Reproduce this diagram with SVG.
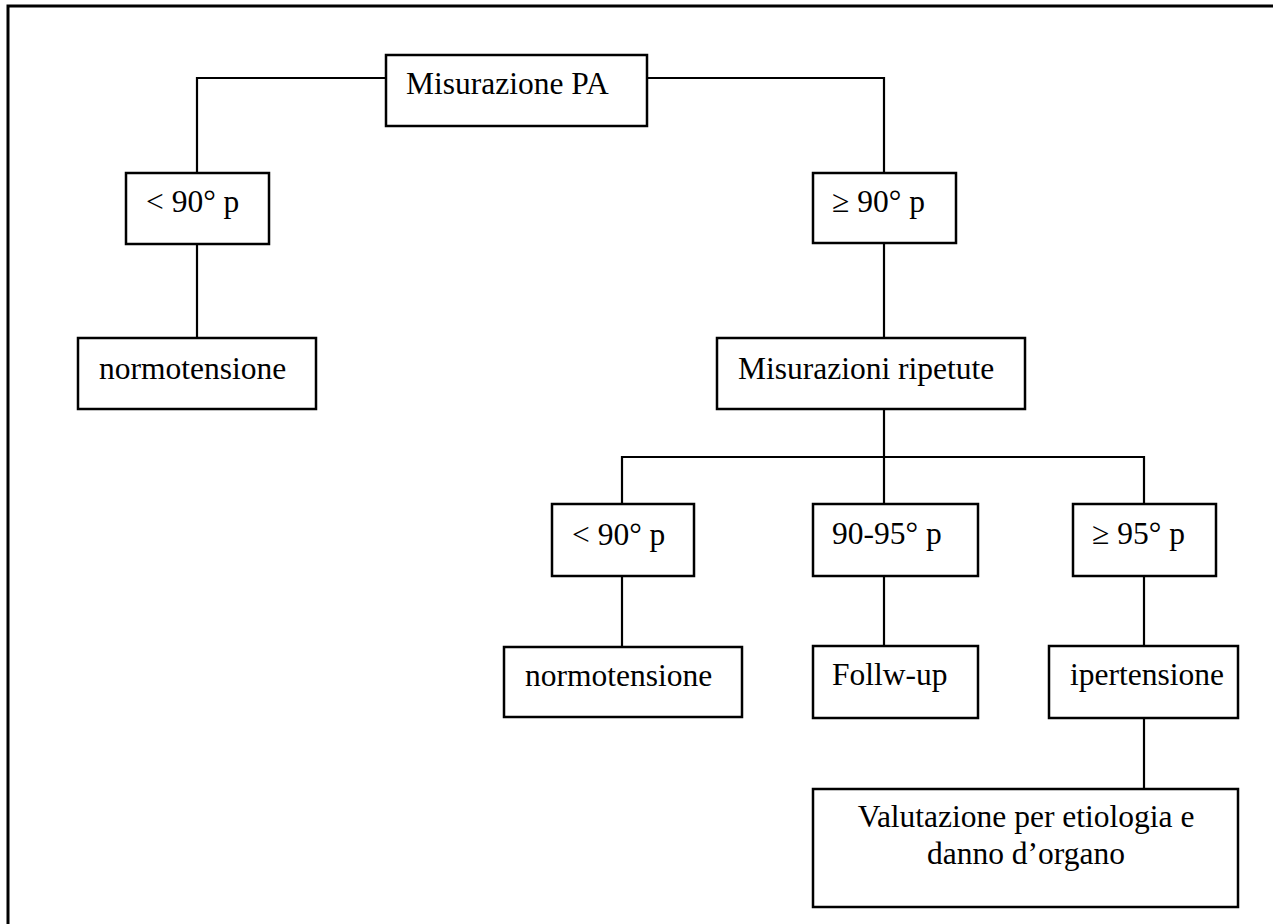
<svg xmlns="http://www.w3.org/2000/svg" width="1273" height="924" viewBox="0 0 1273 924">
<style>
.box{fill:#fff;stroke:#000;stroke-width:2.5}
.conn{fill:none;stroke:#000;stroke-width:2.2}
text{font-family:"Liberation Serif","Times New Roman",serif;font-size:31.5px;fill:#000}
</style>
<rect x="0" y="0" width="1273" height="924" fill="#fff"/>
<rect x="8" y="6" width="1290" height="940" fill="none" stroke="#000" stroke-width="3"/>
<g id="connectors" class="conn">
<path d="M386 78 H197 V173"/>
<path d="M647 78 H884 V173"/>
<path d="M197 244 V338"/>
<path d="M884 243 V338"/>
<path d="M884 409 V504"/>
<path d="M622 504 V457 H1144 V504"/>
<path d="M622 576 V647"/>
<path d="M884 576 V646"/>
<path d="M1144 576 V646"/>
<path d="M1144 718 V789"/>
</g>
<g id="n-misurazione-pa"><rect class="box" x="386" y="55" width="261" height="71"/><text x="406" y="94">Misurazione PA</text></g>
<g id="n-lt90-a"><rect class="box" x="126" y="173" width="143" height="71"/><text x="146" y="212">&lt; 90° p</text></g>
<g id="n-normo-a"><rect class="box" x="78" y="338" width="238" height="71"/><text x="99" y="379">normotensione</text></g>
<g id="n-ge90"><rect class="box" x="813" y="173" width="143" height="70"/><text x="832" y="212">≥ 90° p</text></g>
<g id="n-misurazioni-ripetute"><rect class="box" x="717" y="338" width="308" height="71"/><text x="738" y="379">Misurazioni ripetute</text></g>
<g id="n-lt90-b"><rect class="box" x="552" y="504" width="142" height="72"/><text x="572" y="545">&lt; 90° p</text></g>
<g id="n-90-95"><rect class="box" x="813" y="504" width="165" height="72"/><text x="832" y="544">90-95° p</text></g>
<g id="n-ge95"><rect class="box" x="1073" y="504" width="143" height="72"/><text x="1092" y="544">≥ 95° p</text></g>
<g id="n-normo-b"><rect class="box" x="504" y="647" width="238" height="70"/><text x="525" y="686">normotensione</text></g>
<g id="n-followup"><rect class="box" x="813" y="646" width="165" height="72"/><text x="832" y="685">Follw-up</text></g>
<g id="n-ipertensione"><rect class="box" x="1049" y="646" width="189" height="72"/><text x="1070" y="685">ipertensione</text></g>
<g id="n-valutazione"><rect class="box" x="813" y="789" width="425" height="118"/><text x="1026" y="827" text-anchor="middle">Valutazione per etiologia e</text><text x="1026" y="864" text-anchor="middle">danno d’organo</text></g>
</svg>
